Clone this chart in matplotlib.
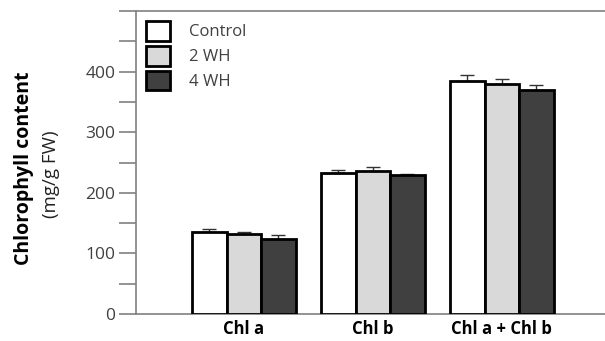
import numpy as np
import matplotlib.pyplot as plt

# Data
groups = ['Chl a', 'Chl b', 'Chl a + Chl b']
series = ['Control', '2 WH', '4 WH']
control = [136, 232, 385]
wh2 = [132, 236, 380]
wh4 = [124, 229, 370]
control_err = [4, 5, 9]
wh2_err = [4, 6, 8]
wh4_err = [6, 2.5, 8]

colors = ['#ffffff', '#d9d9d9', '#404040']
plt.rcParams['font.family'] = ['Open Sans', 'DejaVu Sans']

fig = plt.figure(figsize=(6.05, 3.41), dpi=100)
ax = fig.add_axes([0.2248, 0.0792, 0.7752, 0.8885])

x = np.arange(len(groups))
w = 0.268
vals = [control, wh2, wh4]
errs = [control_err, wh2_err, wh4_err]
for i in range(3):
    ax.bar(x + (i - 1) * w, vals[i], w, color=colors[i], edgecolor='black',
           linewidth=2, label=series[i], zorder=3,
           yerr=[np.zeros(3), errs[i]], capsize=5,
           error_kw=dict(ecolor='#333333', elinewidth=1, capthick=1, zorder=2))

ax.set_xlim(-0.837, 2.80)
ax.set_ylim(0, 500)
ax.set_yticks(np.arange(0, 501, 50))
ax.set_yticklabels(['0', '', '100', '', '200', '', '300', '', '400', '', ''])
ax.tick_params(axis='y', direction='out', length=12, width=1.2, color='#808080',
               labelsize=12.5, labelcolor='#404040', pad=3)
ax.set_xticks(x)
ax.set_xticklabels(groups, fontweight='bold', fontsize=12)
ax.tick_params(axis='x', length=0, pad=4)

for s in ['left', 'bottom', 'top']:
    ax.spines[s].set_color('#808080')
    ax.spines[s].set_linewidth(1.2)
ax.spines['right'].set_visible(False)

fig.text(0.04, 0.508, 'Chlorophyll content', rotation=90, fontweight='bold',
         fontsize=14, ha='center', va='center')
fig.text(0.085, 0.49, '(mg/g FW)', rotation=90, fontsize=13.5,
         ha='center', va='center', color='#222222')

leg = ax.legend(loc='upper left', frameon=False, fontsize=12,
                handlelength=1.45, handleheight=1.45, handletextpad=1.15,
                labelspacing=0.3, borderaxespad=0.2, bbox_to_anchor=(0.0, 1.0))
for t in leg.get_texts():
    t.set_color('#404040')

fig.savefig('out.png', dpi=100)
